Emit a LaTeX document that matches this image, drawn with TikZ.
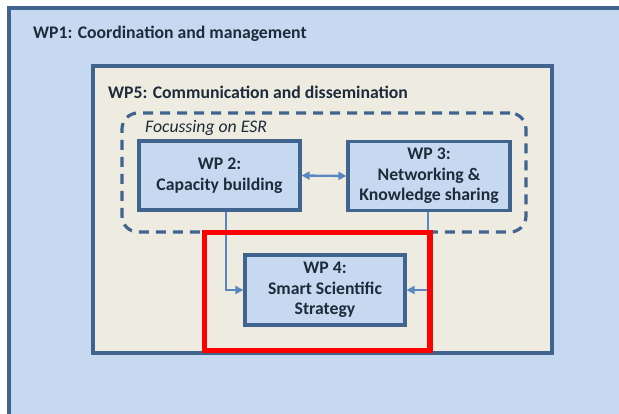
\documentclass[tikz,border=0pt]{standalone}
\usepackage{fontspec}
\setmainfont{Carlito}
\usetikzlibrary{arrows.meta,positioning}
\definecolor{bgblue}{HTML}{C6D9F1}
\definecolor{tan}{HTML}{EEECE1}
\definecolor{edge}{HTML}{41648F}
\definecolor{arrblue}{HTML}{5B86BF}
\definecolor{txt}{HTML}{1E2B3A}
\definecolor{redbox}{HTML}{FF0000}
\begin{document}
\begin{tikzpicture}[x=1pt,y=-1pt,
  wpbox/.style={draw=edge,line width=3.2pt,fill=bgblue,inner sep=0pt,
    font=\fontsize{17.7}{20.5}\selectfont\bfseries,text=txt,align=center},
  lbl/.style={anchor=west,inner sep=0pt,text=txt},
  conn/.style={draw=arrblue,line width=2.3pt,-{Triangle[length=8pt,width=8pt]}},
  dconn/.style={draw=arrblue,line width=2.3pt,{Triangle[length=8pt,width=8pt]}-{Triangle[length=8pt,width=8pt]}}]
\useasboundingbox (0,0) rectangle (619,414);
\clip (0,0) rectangle (619,414);
\fill[white] (0,0) rectangle (619,414);
% WP1
\node[draw=edge,line width=3.6pt,fill=bgblue,minimum width=640pt,minimum height=430pt,inner sep=0pt] (wp1) at (329,223) {};
\node[lbl,font=\fontsize{17.7}{20}\selectfont\bfseries] (wp1t) at (33,34) {WP1: Coordination and management};
% WP5
\node[draw=edge,line width=3.6pt,fill=tan,minimum width=459pt,minimum height=287pt,inner sep=0pt] (wp5) at (322.5,209.5) {};
\node[lbl,font=\fontsize{17.7}{20}\selectfont\bfseries] (wp5t) at (108,92) {WP5: Communication and dissemination};
% ESR dashed
\node[draw=edge,line width=3.2pt,dash pattern=on 10pt off 7pt,rounded corners=16pt,minimum width=404pt,minimum height=119pt,inner sep=0pt] (esr) at (324,172.5) {};
\node[lbl,font=\fontsize{17.7}{20}\selectfont\itshape] (esrt) at (145,128) {Focussing on ESR};
% boxes
\node[wpbox,minimum width=161pt,minimum height=69pt] (wp2) at (219.5,175.5) {WP 2:\\Capacity building};
\node[wpbox,minimum width=162pt,minimum height=69pt] (wp3) at (429,176) {WP 3:\\Networking \&\\Knowledge sharing};
\node[wpbox,minimum width=160pt,minimum height=70pt] (wp4) at (325,290) {WP 4:\\Smart Scientific\\Strategy};
% connectors
\draw[dconn] (wp2.east) -- (wp3.west);
\draw[conn] ([xshift=6.5pt]wp2.south) |- (wp4.west);
\draw[conn] ([xshift=-1pt]wp3.south) |- (wp4.east);
% red highlight
\node[draw=redbox,line width=5.5pt,minimum width=225.5pt,minimum height=118pt,inner sep=0pt] (hl) at (317,291.5) {};
\end{tikzpicture}
\end{document}
